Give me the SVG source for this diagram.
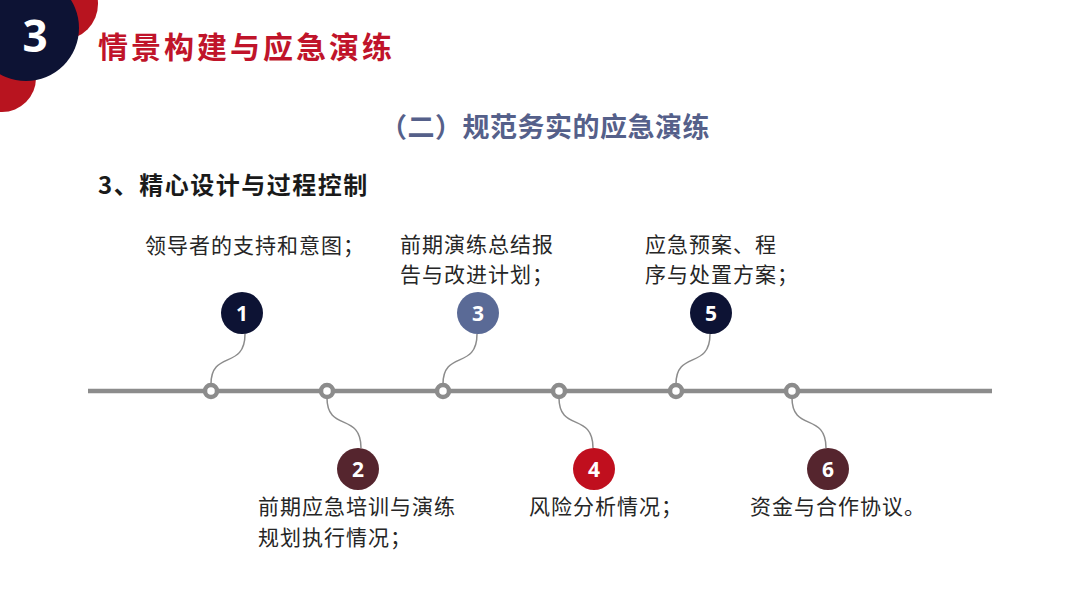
<svg xmlns="http://www.w3.org/2000/svg" width="1080" height="608" viewBox="0 0 1080 608">
  <defs>
    <style>
      .cjk { font-family: "Noto Sans CJK SC", "Noto Sans", sans-serif; }
      .lbl { font-size: 21px; fill: #262626; letter-spacing: 1px; }
      .num { font-family: "Open Sans", "Noto Sans", sans-serif; font-weight: bold; font-size: 21px; fill: #ffffff; text-anchor: middle; }
      .mark { fill: #ffffff; stroke: #8c8c8c; stroke-width: 4.5; }
      .link { fill: none; stroke: #8c8c8c; stroke-width: 1.5; }
    </style>
  </defs>
  <rect width="1080" height="608" fill="#ffffff"/>

  <g id="corner">
    <circle cx="62" cy="4" r="36" fill="#b8141f"/>
    <circle cx="2" cy="78" r="34" fill="#b8141f"/>
    <circle cx="26" cy="28" r="53" fill="#0d1334"/>
    <text x="35" y="52" font-family="Open Sans, Noto Sans, sans-serif" font-weight="bold" font-size="44" fill="#ffffff" text-anchor="middle">3</text>
  </g>

  <text id="title" class="cjk" x="98" y="58" font-size="30" font-weight="bold" fill="#c0142a" letter-spacing="3">情景构建与应急演练</text>
  <text id="subtitle" class="cjk" x="545" y="137" font-size="27" font-weight="bold" fill="#55608a" text-anchor="middle" letter-spacing="0.5">（二）规范务实的应急演练</text>
  <text id="heading" class="cjk" x="98" y="194" font-size="24" font-weight="bold" fill="#1a1a1a" letter-spacing="1.5">3、精心设计与过程控制</text>

  <g id="connectors">
    <line x1="88" y1="391" x2="992" y2="391" stroke="#8c8c8c" stroke-width="4.5"/>
    <path class="link" d="M211,384 C211,350 245,370 245,334"/>
    <path class="link" d="M327,398 C327,432 361,412 361,448"/>
    <path class="link" d="M443,384 C443,350 477,370 477,334"/>
    <path class="link" d="M559,398 C559,432 593,412 593,448"/>
    <path class="link" d="M676,384 C676,350 710,370 710,334"/>
    <path class="link" d="M792,398 C792,432 826,412 826,448"/>
    <circle class="mark" cx="211" cy="391" r="6"/>
    <circle class="mark" cx="327" cy="391" r="6"/>
    <circle class="mark" cx="443" cy="391" r="6"/>
    <circle class="mark" cx="559" cy="391" r="6"/>
    <circle class="mark" cx="676" cy="391" r="6"/>
    <circle class="mark" cx="792" cy="391" r="6"/>
  </g>

  <g id="node1">
    <circle cx="242" cy="313" r="21" fill="#0d1334"/>
    <text class="num" x="242" y="320.5">1</text>
    <text class="cjk lbl" x="145" y="253">领导者的支持和意图；</text>
  </g>
  <g id="node2">
    <circle cx="358" cy="469" r="21" fill="#55252e"/>
    <text class="num" x="358" y="476.5">2</text>
    <text class="cjk lbl" x="258" y="514">前期应急培训与演练</text>
    <text class="cjk lbl" x="258" y="545">规划执行情况；</text>
  </g>
  <g id="node3">
    <circle cx="478" cy="313" r="21" fill="#5a6a96"/>
    <text class="num" x="478" y="320.5">3</text>
    <text class="cjk lbl" x="400" y="252">前期演练总结报</text>
    <text class="cjk lbl" x="400" y="282">告与改进计划；</text>
  </g>
  <g id="node4">
    <circle cx="594" cy="469" r="21" fill="#c00f1e"/>
    <text class="num" x="594" y="476.5">4</text>
    <text class="cjk lbl" x="529" y="514">风险分析情况；</text>
  </g>
  <g id="node5">
    <circle cx="711" cy="313" r="21" fill="#0d1334"/>
    <text class="num" x="711" y="320.5">5</text>
    <text class="cjk lbl" x="645" y="252">应急预案、程</text>
    <text class="cjk lbl" x="645" y="282">序与处置方案；</text>
  </g>
  <g id="node6">
    <circle cx="828" cy="469" r="21" fill="#55252e"/>
    <text class="num" x="828" y="476.5">6</text>
    <text class="cjk lbl" x="750" y="514">资金与合作协议。</text>
  </g>
</svg>
